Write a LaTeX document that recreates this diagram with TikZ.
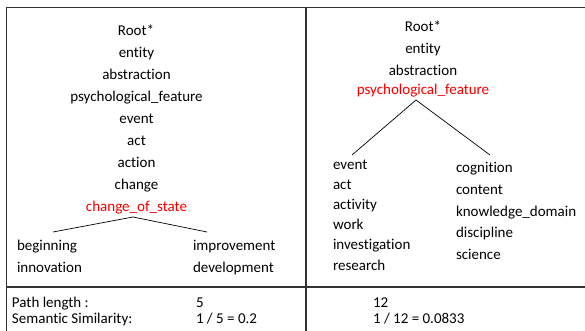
\documentclass[tikz,border=0pt]{standalone}
\usepackage{fontspec}
\setmainfont{Carlito}[Ligatures=NoCommon]
\begin{document}
\begin{tikzpicture}[x=1pt,y=-1pt,
  every node/.style={inner sep=0pt,outer sep=0pt,font=\fontsize{15}{18}\selectfont},
  word/.style={anchor=base},
  lword/.style={anchor=base west},
  hit/.style={text=red!95!black},
  frame/.style={draw=black!80,line width=1.3pt},
  branch/.style={draw=black,line width=0.7pt}]
\useasboundingbox (0,0) rectangle (585,331);
% table frame
\draw[frame] (6.5,331) -- (6.5,7.5) -- (585,7.5);
\draw[frame] (306,7.5) -- (306,331);
\draw[frame] (6,287) -- (585,287);

% left hierarchy
\node[word] (l1) at (136,35.5) {Root*};
\node[word] (l2) at (136.5,57.5) {entity};
\node[word] (l3) at (136.5,79.5) {abstraction};
\node[word] (l4) at (136.5,101.5) {psychological\_feature};
\node[word] (l5) at (136.5,123.5) {event};
\node[word] (l6) at (136.5,145.5) {act};
\node[word] (l7) at (136.5,167.5) {action};
\node[word] (l8) at (136.5,189) {change};
\node[word,hit] (l9) at (136.5,211) {change\_of\_state};
\coordinate (la) at (133,217);
\coordinate (lb) at (53,232);
\coordinate (lc) at (207,232);
\draw[branch] (lb) -- (la) -- (lc);
\node[lword] (b1) at (17,250) {beginning};
\node[lword] (b2) at (17,272) {innovation};
\node[lword] (c1) at (193,250) {improvement};
\node[lword] (c2) at (193,272) {development};

% right hierarchy
\node[word] (r1) at (423,32) {Root*};
\node[word] (r2) at (423,54) {entity};
\node[word] (r3) at (423,76) {abstraction};
\node[word,hit] (r4) at (423,94.5) {psychological\_feature};
\coordinate (ra) at (416,100);
\coordinate (rb) at (352,155);
\coordinate (rc) at (490,155);
\draw[branch] (rb) -- (ra) -- (rc);
\node[lword] (e1) at (333,169) {event};
\node[lword] (e2) at (333,189.5) {act};
\node[lword] (e3) at (333,209.5) {activity};
\node[lword] (e4) at (333,229.5) {work};
\node[lword] (e5) at (333,249.5) {investigation};
\node[lword] (e6) at (333,270) {research};
\node[lword] (g1) at (456,172) {cognition};
\node[lword] (g2) at (456,194) {content};
\node[lword] (g3) at (456,216) {knowledge\_domain};
\node[lword] (g4) at (456,237.5) {discipline};
\node[lword] (g5) at (456,259) {science};

% scores
\node[lword] (p1) at (12,307) {Path length :};
\node[lword] (p2) at (12,323) {Semantic Similarity:};
\node[lword] (v1) at (196,307) {5};
\node[lword] (v2) at (196,323) {1 / 5 = 0.2};
\node[lword] (w1) at (373,307) {12};
\node[lword] (w2) at (373,323) {1 / 12 = 0.0833};
\end{tikzpicture}
\end{document}
